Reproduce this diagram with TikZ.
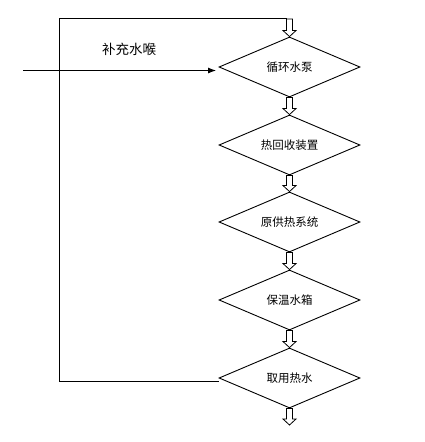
\documentclass[tikz,border=0pt]{standalone}
\usepackage{fontspec}
\setmainfont{Noto Sans CJK SC}
\usetikzlibrary{shapes.geometric,arrows.meta,calc}
\tikzset{
  stepbox/.style={draw, diamond, aspect=2.35, line width=0.9pt, minimum width=141pt, minimum height=60pt, inner sep=0pt, font=\fontsize{11.5}{13}\selectfont},
  line/.style={line width=0.9pt},
  hollow/.style={draw, line width=0.8pt, fill=white},
}
\newcommand{\blockarr}[2]{%
  \draw[hollow] let \p1=(#1), \p2=(#2) in
    (\x1-3pt,\y1) -- (\x1-3pt,\y2+6pt) -- (\x1-6.5pt,\y2+6pt) -- (\x2,\y2)
    -- (\x1+6.5pt,\y2+6pt) -- (\x1+3pt,\y2+6pt) -- (\x1+3pt,\y1) -- cycle;}
\begin{document}
\begin{tikzpicture}[x=1pt,y=-1pt]
\useasboundingbox (0,0) rectangle (425,442);
\node[stepbox] (d1) at (289.5,67) {循环水泵};
\node[stepbox] (d2) at (289.5,145) {热回收装置};
\node[stepbox] (d3) at (289.5,222) {原供热系统};
\node[stepbox] (d4) at (289.5,300) {保温水箱};
\node[stepbox] (d5) at (289.5,378) {取用热水};
\coordinate (topin) at (289.5,19);
\coordinate (outend) at (289.5,425);
\coordinate (lb) at (59.5,381);
\coordinate (lt) at (59.5,18.5);
\coordinate (src) at (23,70.5);
\coordinate (srcend) at (216,70.5);
\node[font=\fontsize{13.5}{15}\selectfont, anchor=center] (lbl) at (129,49) {补充水喉};
% feedback loop
\draw[line] (d5.west |- lb) -- (lb) -- (lt) -- (287,18.5);
% input arrow
\draw[line, -{Latex[length=8pt,width=6pt]}] (src) -- (srcend);
% block arrows
\blockarr{topin}{d1.north}
\blockarr{d1.south}{d2.north}
\blockarr{d2.south}{d3.north}
\blockarr{d3.south}{d4.north}
\blockarr{d4.south}{d5.north}
\blockarr{d5.south}{outend}
\end{tikzpicture}
\end{document}
